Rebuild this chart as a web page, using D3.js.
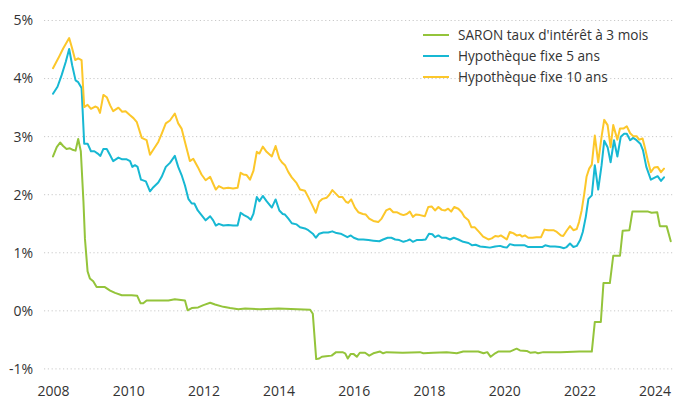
<!DOCTYPE html>
<html>
<head>
<meta charset="utf-8">
<script src="https://cdn.jsdelivr.net/npm/d3@7"></script>
<style>
  html, body { margin: 0; padding: 0; background: #fff; }
  svg { display: block; }
  text { font-family: "Open Sans", "Noto Sans", sans-serif; fill: #333; }
</style>
</head>
<body>
<svg id="chart" width="673" height="401"></svg>
<script>
// ---- Data (decimal year, percent) ----
const seriesNames = ["SARON taux d'intérêt à 3 mois", "Hypothèque fixe 5 ans", "Hypothèque fixe 10 ans"];
const seriesColors = ["#94c43b", "#17b8d3", "#fcc72a"];
const yTicks = [-1, 0, 1, 2, 3, 4, 5];
const xTicks = [2008, 2010, 2012, 2014, 2016, 2018, 2020, 2022, 2024];

const saron = [[2008.00,2.65],[2008.10,2.81],[2008.19,2.89],[2008.27,2.83],[2008.36,2.78],[2008.45,2.79],[2008.54,2.76],[2008.60,2.75],[2008.67,2.95],[2008.74,2.74],[2008.81,1.87],[2008.85,1.23],[2008.92,0.67],[2008.98,0.55],[2009.07,0.50],[2009.16,0.40],[2009.38,0.40],[2009.52,0.34],[2009.65,0.30],[2009.83,0.26],[2010.09,0.26],[2010.24,0.25],[2010.33,0.12],[2010.40,0.12],[2010.49,0.17],[2010.62,0.17],[2010.85,0.17],[2011.07,0.17],[2011.24,0.19],[2011.51,0.17],[2011.58,0.00],[2011.69,0.04],[2011.86,0.05],[2012.00,0.09],[2012.18,0.13],[2012.31,0.10],[2012.53,0.06],[2012.71,0.04],[2012.93,0.02],[2013.11,0.03],[2013.50,0.02],[2014.00,0.03],[2014.50,0.02],[2014.84,0.01],[2014.91,-0.06],[2015.00,-0.84],[2015.08,-0.83],[2015.15,-0.80],[2015.26,-0.79],[2015.41,-0.78],[2015.53,-0.72],[2015.70,-0.72],[2015.77,-0.74],[2015.84,-0.83],[2015.92,-0.75],[2015.99,-0.75],[2016.08,-0.80],[2016.16,-0.73],[2016.30,-0.73],[2016.41,-0.78],[2016.52,-0.74],[2016.70,-0.71],[2016.78,-0.74],[2016.87,-0.72],[2017.30,-0.73],[2017.76,-0.72],[2017.85,-0.74],[2018.11,-0.73],[2018.47,-0.72],[2018.74,-0.74],[2018.91,-0.71],[2019.31,-0.71],[2019.45,-0.74],[2019.55,-0.72],[2019.64,-0.80],[2019.76,-0.74],[2019.84,-0.71],[2020.15,-0.71],[2020.33,-0.66],[2020.42,-0.69],[2020.60,-0.70],[2020.69,-0.73],[2020.82,-0.72],[2020.90,-0.74],[2021.04,-0.72],[2021.50,-0.72],[2022.00,-0.71],[2022.33,-0.71],[2022.41,-0.20],[2022.57,-0.20],[2022.64,0.47],[2022.81,0.47],[2022.90,0.94],[2023.08,0.94],[2023.15,1.37],[2023.33,1.38],[2023.41,1.70],[2023.83,1.70],[2023.92,1.68],[2024.07,1.69],[2024.14,1.45],[2024.32,1.45],[2024.43,1.19]];

const fixe5 = [[2008.00,3.73],[2008.12,3.85],[2008.23,4.05],[2008.34,4.28],[2008.43,4.50],[2008.51,4.22],[2008.60,3.96],[2008.67,3.93],[2008.76,3.83],[2008.83,2.87],[2008.92,2.87],[2009.01,2.74],[2009.10,2.74],[2009.19,2.70],[2009.26,2.66],[2009.34,2.78],[2009.43,2.78],[2009.52,2.67],[2009.60,2.57],[2009.74,2.63],[2009.84,2.60],[2009.96,2.60],[2010.05,2.57],[2010.11,2.47],[2010.18,2.50],[2010.25,2.47],[2010.34,2.25],[2010.47,2.22],[2010.58,2.05],[2010.67,2.12],[2010.80,2.20],[2010.89,2.30],[2011.00,2.47],[2011.11,2.54],[2011.24,2.66],[2011.33,2.47],[2011.42,2.33],[2011.51,2.15],[2011.60,1.92],[2011.69,1.84],[2011.76,1.84],[2011.85,1.72],[2011.95,1.64],[2012.06,1.55],[2012.18,1.62],[2012.26,1.55],[2012.33,1.46],[2012.41,1.49],[2012.53,1.46],[2012.66,1.47],[2012.79,1.46],[2012.91,1.46],[2012.99,1.68],[2013.08,1.64],[2013.17,1.61],[2013.26,1.56],[2013.33,1.66],[2013.42,1.95],[2013.49,1.88],[2013.58,1.97],[2013.68,1.88],[2013.82,1.77],[2013.92,1.91],[2014.02,1.72],[2014.11,1.66],[2014.17,1.65],[2014.26,1.58],[2014.35,1.50],[2014.48,1.48],[2014.57,1.43],[2014.70,1.41],[2014.79,1.38],[2014.91,1.32],[2014.99,1.25],[2015.08,1.32],[2015.19,1.34],[2015.32,1.34],[2015.43,1.36],[2015.54,1.33],[2015.65,1.32],[2015.74,1.29],[2015.83,1.26],[2015.92,1.29],[2016.00,1.25],[2016.12,1.22],[2016.25,1.22],[2016.39,1.21],[2016.52,1.20],[2016.68,1.19],[2016.78,1.22],[2016.90,1.25],[2017.00,1.25],[2017.10,1.22],[2017.21,1.21],[2017.32,1.18],[2017.42,1.20],[2017.49,1.22],[2017.57,1.18],[2017.67,1.21],[2017.81,1.21],[2017.91,1.22],[2018.00,1.32],[2018.09,1.31],[2018.16,1.26],[2018.25,1.29],[2018.34,1.25],[2018.45,1.25],[2018.56,1.22],[2018.66,1.25],[2018.78,1.22],[2018.91,1.18],[2019.05,1.16],[2019.15,1.12],[2019.24,1.13],[2019.36,1.10],[2019.49,1.09],[2019.62,1.08],[2019.76,1.10],[2019.89,1.11],[2019.98,1.09],[2020.07,1.08],[2020.15,1.14],[2020.27,1.12],[2020.42,1.12],[2020.55,1.12],[2020.64,1.09],[2020.77,1.09],[2020.91,1.09],[2021.01,1.09],[2021.09,1.12],[2021.22,1.10],[2021.35,1.10],[2021.48,1.09],[2021.59,1.07],[2021.66,1.09],[2021.75,1.15],[2021.84,1.09],[2021.93,1.11],[2022.02,1.21],[2022.09,1.35],[2022.17,1.61],[2022.24,1.92],[2022.33,1.98],[2022.41,2.50],[2022.50,2.08],[2022.59,2.50],[2022.66,2.92],[2022.75,2.81],[2022.83,2.55],[2022.92,2.93],[2023.01,2.65],[2023.10,2.99],[2023.19,3.04],[2023.26,3.04],[2023.35,2.93],[2023.43,2.97],[2023.52,2.93],[2023.62,2.87],[2023.69,2.76],[2023.78,2.47],[2023.90,2.25],[2023.99,2.28],[2024.08,2.31],[2024.17,2.23],[2024.25,2.29]];

const fixe10 = [[2008.00,4.17],[2008.14,4.34],[2008.27,4.51],[2008.43,4.69],[2008.51,4.51],[2008.59,4.31],[2008.67,4.34],[2008.76,4.31],[2008.83,3.50],[2008.92,3.54],[2009.01,3.47],[2009.12,3.51],[2009.19,3.49],[2009.25,3.40],[2009.34,3.71],[2009.43,3.67],[2009.52,3.53],[2009.60,3.43],[2009.74,3.49],[2009.84,3.42],[2009.93,3.43],[2010.05,3.36],[2010.14,3.31],[2010.23,3.24],[2010.36,2.97],[2010.49,2.93],[2010.58,2.68],[2010.67,2.77],[2010.80,2.90],[2010.89,3.04],[2011.00,3.22],[2011.11,3.27],[2011.24,3.39],[2011.33,3.22],[2011.42,3.13],[2011.51,2.90],[2011.64,2.57],[2011.73,2.61],[2011.85,2.47],[2011.95,2.34],[2012.06,2.24],[2012.18,2.30],[2012.26,2.18],[2012.33,2.08],[2012.41,2.14],[2012.53,2.10],[2012.66,2.11],[2012.79,2.10],[2012.91,2.11],[2012.99,2.37],[2013.06,2.34],[2013.15,2.33],[2013.24,2.25],[2013.33,2.40],[2013.42,2.73],[2013.49,2.70],[2013.58,2.82],[2013.68,2.73],[2013.82,2.65],[2013.92,2.83],[2014.02,2.61],[2014.10,2.54],[2014.17,2.50],[2014.26,2.38],[2014.35,2.29],[2014.48,2.19],[2014.57,2.08],[2014.70,2.06],[2014.79,1.95],[2014.91,1.79],[2014.99,1.68],[2015.08,1.87],[2015.17,1.92],[2015.28,1.94],[2015.35,1.99],[2015.43,2.07],[2015.52,2.01],[2015.61,1.95],[2015.70,1.95],[2015.79,1.87],[2015.85,1.85],[2015.93,1.91],[2016.03,1.77],[2016.12,1.69],[2016.24,1.66],[2016.32,1.65],[2016.41,1.58],[2016.52,1.54],[2016.65,1.52],[2016.74,1.58],[2016.86,1.72],[2016.96,1.75],[2017.05,1.69],[2017.14,1.69],[2017.23,1.66],[2017.32,1.64],[2017.41,1.66],[2017.49,1.70],[2017.57,1.61],[2017.65,1.65],[2017.76,1.64],[2017.89,1.62],[2017.98,1.78],[2018.07,1.79],[2018.16,1.72],[2018.25,1.78],[2018.34,1.73],[2018.43,1.72],[2018.51,1.75],[2018.59,1.70],[2018.67,1.78],[2018.78,1.75],[2018.87,1.69],[2018.94,1.61],[2019.05,1.55],[2019.13,1.43],[2019.22,1.43],[2019.33,1.35],[2019.44,1.27],[2019.58,1.22],[2019.67,1.24],[2019.76,1.28],[2019.84,1.27],[2019.91,1.29],[2019.98,1.26],[2020.07,1.22],[2020.15,1.35],[2020.24,1.33],[2020.33,1.29],[2020.42,1.30],[2020.48,1.27],[2020.55,1.29],[2020.64,1.25],[2020.75,1.25],[2020.86,1.26],[2020.98,1.26],[2021.07,1.39],[2021.17,1.38],[2021.31,1.38],[2021.40,1.35],[2021.51,1.29],[2021.57,1.28],[2021.66,1.37],[2021.75,1.45],[2021.84,1.38],[2021.93,1.40],[2021.99,1.52],[2022.06,1.72],[2022.13,2.01],[2022.19,2.30],[2022.26,2.44],[2022.33,2.51],[2022.41,3.01],[2022.50,2.55],[2022.59,2.99],[2022.66,3.28],[2022.75,3.19],[2022.83,2.81],[2022.90,3.19],[2023.01,2.94],[2023.08,3.13],[2023.17,3.13],[2023.26,3.17],[2023.35,3.05],[2023.43,3.00],[2023.52,3.00],[2023.59,2.94],[2023.68,2.96],[2023.74,2.81],[2023.82,2.58],[2023.90,2.38],[2023.99,2.46],[2024.08,2.47],[2024.17,2.38],[2024.25,2.44]];

// ---- Drawing ----
const svg = d3.select("#chart");
const W = 673, H = 401;

const x = d3.scaleLinear().domain([2008, 2024.5]).range([53, 53 + 37.6 * 16.5]);
const y = d3.scaleLinear().domain([-1, 5]).range([368.4, 20]);

// gridlines
const yAxis = d3.axisLeft(y).tickValues(yTicks).tickSize(-(W - 44)).tickFormat(d => d + "%");
const gy = svg.append("g").attr("transform", "translate(44,0)").call(yAxis);
gy.select(".domain").remove();
gy.selectAll(".tick line")
  .attr("stroke", "#c9c9c9").attr("stroke-width", 1).attr("stroke-dasharray", "1.2,2.6");
gy.selectAll(".tick text")
  .attr("x", -11).attr("dy", "0.35em")
  .style("font-size", "14px").style("fill", "#333")
  .style("font-family", "'Open Sans', sans-serif");

// x axis labels
const xAxis = d3.axisBottom(x).tickValues(xTicks).tickSize(0).tickFormat(d3.format("d"));
const gx = svg.append("g").attr("transform", "translate(0,380)").call(xAxis);
gx.select(".domain").remove();
gx.selectAll(".tick text")
  .attr("y", 6).attr("dy", "0.71em")
  .style("font-size", "14px").style("fill", "#333")
  .style("font-family", "'Open Sans', sans-serif");

// lines
const line = d3.line().x(d => x(d[0])).y(d => y(d[1]));
const allSeries = [saron, fixe5, fixe10];
svg.append("g").selectAll("path")
  .data(allSeries)
  .join("path")
  .attr("d", line)
  .attr("fill", "none")
  .attr("stroke", (d, i) => seriesColors[i])
  .attr("stroke-width", 2)
  .attr("stroke-linejoin", "round")
  .attr("stroke-linecap", "round");

// legend
const legend = svg.append("g").attr("transform", "translate(423,35)");
const items = legend.selectAll("g").data(seriesNames).join("g")
  .attr("transform", (d, i) => `translate(0,${i * 21})`);
items.append("line")
  .attr("x1", 0).attr("x2", 26).attr("y1", 0).attr("y2", 0)
  .attr("stroke", (d, i) => seriesColors[i]).attr("stroke-width", 2);
items.append("text")
  .attr("x", 35).attr("y", 0).attr("dy", "0.35em")
  .style("font-size", "13.6px").style("fill", "#333")
  .text(d => d);
</script>
</body>
</html>
